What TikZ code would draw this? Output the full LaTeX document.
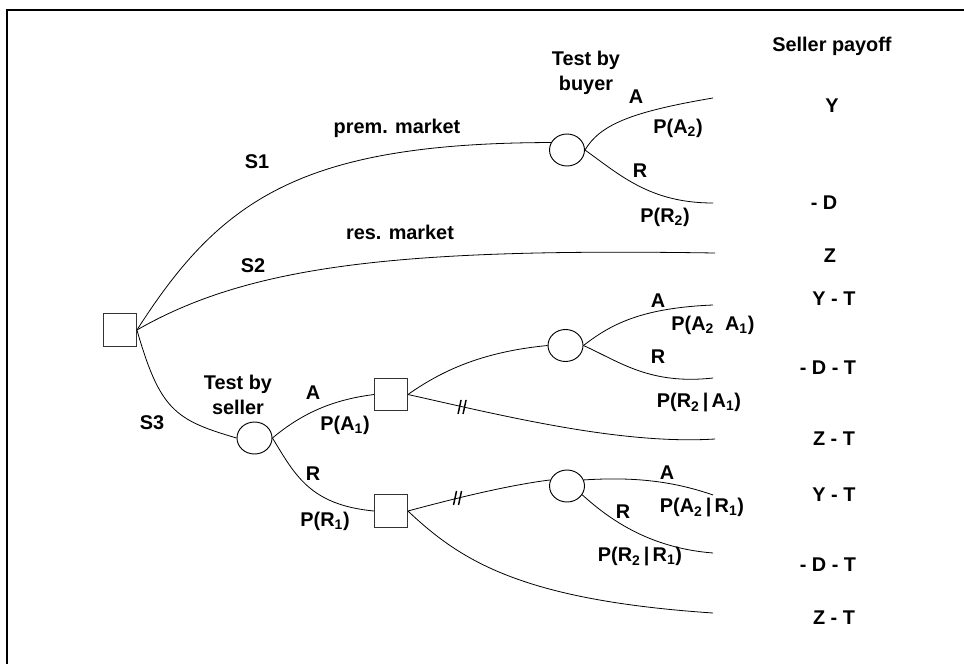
\documentclass[tikz,border=0pt]{standalone}
\usepackage{fontspec}
\setmainfont{Liberation Sans}
\usetikzlibrary{shapes.geometric}
\begin{document}
\begin{tikzpicture}[x=0.75pt,y=-0.75pt,
  lbl/.style={font=\fontsize{14.9}{19}\selectfont\bfseries, inner sep=0pt, align=center},
  dec/.style={draw=black!80, line width=0.9pt, minimum size=24.5pt, inner sep=0pt},
  chance/.style={ellipse, draw, line width=0.7pt, minimum width=26.25pt, minimum height=24pt, inner sep=0pt},
  br/.style={line width=0.6pt},
  hash/.style={line width=1.1pt}]
\useasboundingbox (0,0) rectangle (964,664);
\coordinate (fa) at (964,10);
\coordinate (fb) at (7,10);
\coordinate (fc) at (7,664);
\draw[line width=1.2pt] (fa) -- (fb) -- (fc);

% decision and chance nodes
\node[dec] (root) at (120,330) {};
\node[chance] (b1) at (567,150) {};
\node[chance] (sel) at (254.5,438) {};
\node[dec] (d2) at (391,394.5) {};
\node[dec] (d3) at (391,511) {};
\node[chance] (b2) at (565.5,345.5) {};
\node[chance] (b3) at (567,486) {};

% free ends
\coordinate (e1) at (713,98);
\coordinate (e2) at (713,203);
\coordinate (e3) at (715,253);
\coordinate (e4) at (713,305);
\coordinate (e5) at (713,378);
\coordinate (e6) at (715,439);
\coordinate (e7) at (713,495);
\coordinate (e8) at (713,553);
\coordinate (e9) at (713,613);

% branches
\draw[br] (root.east) .. controls (220,200) and (300,143) .. (b1.155);
\draw[br] (root.east) .. controls (250,265) and (400,248) .. (e3);
\draw[br] (root.east) .. controls (160,410) and (175,420) .. (sel.west);

\draw[br] (sel.east) .. controls (300,415) and (330,400) .. (d2.west);
\draw[br] (sel.east) .. controls (295,475) and (310,505) .. (d3.west);

\draw[br] (d2.east) .. controls (440,372) and (480,352) .. (b2.west);
\draw[br] (d2.east) .. controls (500,415) and (620,445) .. (e6) coordinate[pos=0.19] (h1);
\draw[br] (d3.east) .. controls (460,497) and (510,485) .. (b3.160) coordinate[pos=0.33] (h2);
\draw[br] (d3.east) .. controls (460,560) and (520,600) .. (e9);

\draw[br] (b1.east) .. controls (600,125) and (630,112) .. (e1);
\draw[br] (b1.east) .. controls (620,175) and (650,203) .. (e2);
\draw[br] (b2.east) .. controls (610,325) and (640,308) .. (e4);
\draw[br] (b2.east) .. controls (620,362) and (650,385) .. (e5);
\draw[br] (b3.20) .. controls (630,477) and (670,480) .. (e7);
\draw[br] (b3.-30) .. controls (610,520) and (650,548) .. (e8);

% hash marks
\draw[hash] ([shift={(-5,7)}]h1) -- ([shift={(-2,-7)}]h1);
\draw[hash] ([shift={(0,7)}]h1) -- ([shift={(3,-7)}]h1);
\draw[hash] ([shift={(-5,7)}]h2) -- ([shift={(-2,-7)}]h2);
\draw[hash] ([shift={(0,7)}]h2) -- ([shift={(3,-7)}]h2);

% labels
\node[lbl] (lS1) at (257,162) {S1};
\node[lbl] (lpm) at (397,128) {prem. market};
\node[lbl] (lrm) at (400,232) {res. market};
\node[lbl] (lS2) at (253,266) {S2};
\node[lbl] (lS3) at (152,423) {S3};
\node[lbl] (lts) at (238,395) {Test by\\seller};
\node[lbl] (ltb) at (586,73) {Test by\\buyer};

\node[lbl] (l1) at (313,393) {A};
\node[lbl] (l2) at (345,425) {P(A\textsubscript{1})};
\node[lbl] (l3) at (313,474) {R};
\node[lbl] (l4) at (325,521) {P(R\textsubscript{1})};

\node[lbl] (l5) at (636,97) {A};
\node[lbl] (l6) at (678,128) {P(A\textsubscript{2})};
\node[lbl] (l7) at (640,171) {R};
\node[lbl] (l8) at (665,217) {P(R\textsubscript{2})};

\node[lbl] (l9) at (658,301) {A};
\node[lbl] (l10) at (713,325) {P(A\textsubscript{2}\ \ A\textsubscript{1})};
\node[lbl] (l11) at (658,357) {R};
\node[lbl] (l12) at (699,403) {P(R\textsubscript{2}\,|\,A\textsubscript{1})};

\node[lbl] (l13) at (667,473) {A};
\node[lbl] (l14) at (702,508) {P(A\textsubscript{2}\,|\,R\textsubscript{1})};
\node[lbl] (l15) at (623,512) {R};
\node[lbl] (l16) at (640,557) {P(R\textsubscript{2}\,|\,R\textsubscript{1})};

% payoffs
\node[lbl] (sp) at (832,46) {Seller payoff};
\node[lbl] (p1) at (832,106) {Y};
\node[lbl] (p2) at (824,203) {- D};
\node[lbl] (p3) at (830,256) {Z};
\node[lbl] (p4) at (834,299) {Y - T};
\node[lbl] (p5) at (828,368) {- D - T};
\node[lbl] (p6) at (834,439) {Z - T};
\node[lbl] (p7) at (834,495) {Y - T};
\node[lbl] (p8) at (828,565) {- D - T};
\node[lbl] (p9) at (834,618) {Z - T};
\end{tikzpicture}
\end{document}
